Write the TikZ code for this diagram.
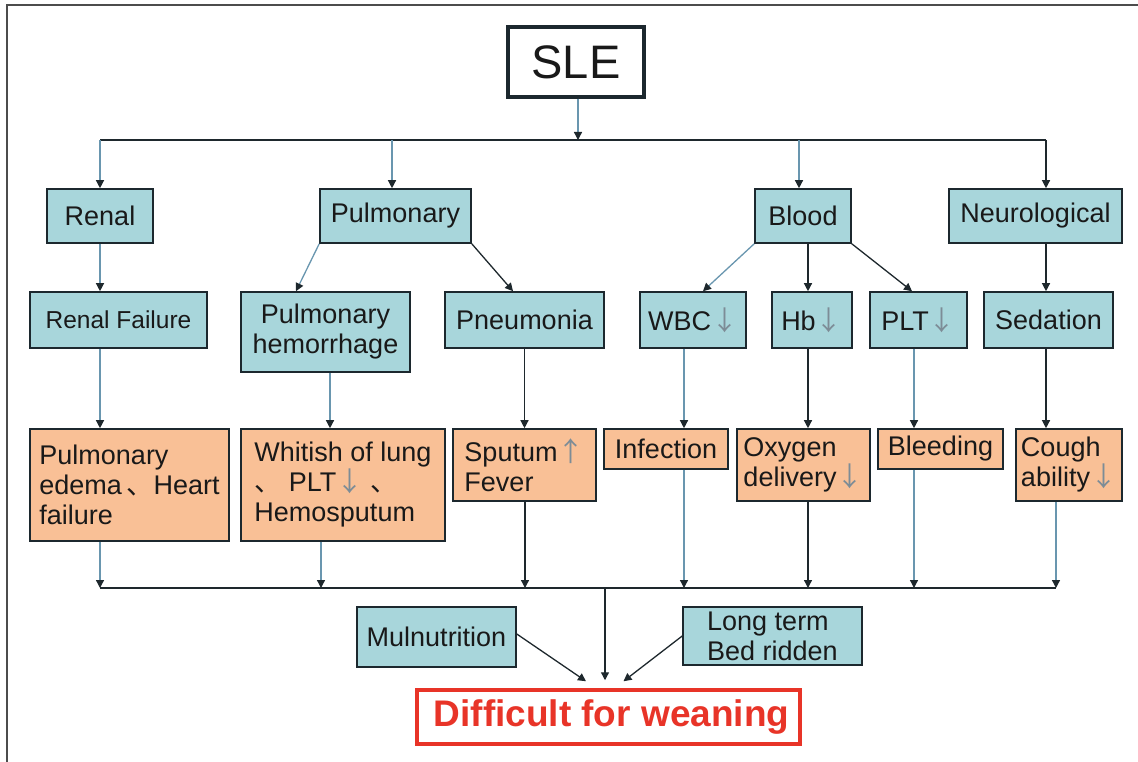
\documentclass[tikz,border=0pt]{standalone}
\usepackage{fontspec}
\setmainfont{Liberation Sans}
\newfontfamily\cjk{Noto Sans CJK SC}
\usetikzlibrary{arrows.meta}
\definecolor{bfill}{RGB}{168,214,219}
\definecolor{ofill}{RGB}{249,192,150}
\definecolor{bord}{RGB}{28,40,46}
\definecolor{lnblue}{RGB}{105,150,175}
\definecolor{lnblk}{RGB}{30,40,45}
\definecolor{redc}{RGB}{232,52,40}
\definecolor{arrg}{RGB}{125,140,150}
\newcommand{\dnarr}{{\cjk\color{arrg}↓}}
\newcommand{\uparr}{{\cjk\color{arrg}↑}}
\newcommand{\icomma}{{\cjk 、}}
\begin{document}
\begin{tikzpicture}[x=1pt,y=-1pt,
  box/.style={draw=bord, line width=1.6pt, inner sep=0pt, text=black!90, font=\fontsize{27}{30}\selectfont},
  bbox/.style={box, fill=bfill},
  obox/.style={box, fill=ofill},
  arr/.style={line width=1.3pt, draw=lnblk, -{Triangle[width=8pt,length=8pt,color=lnblk]}},
  barr/.style={arr, draw=lnblue},
  ln/.style={line width=1.4pt, draw=lnblk}]
\useasboundingbox (0,0) rectangle (1138,762);
\draw[line width=1.5pt, draw=black!70] (7,762) -- (7,5) -- (1138,5);

% top
\node[box, line width=3.5pt, minimum width=136pt, minimum height=70pt, font=\fontsize{47}{50}\selectfont] (SLE) at (576,62) {SLE};
\coordinate (dS) at (578,140);
\coordinate (dR) at (100,140);
\coordinate (dP) at (392,140);
\coordinate (dB) at (799,140);
\coordinate (dN) at (1046,140);
\draw[ln] (dR) -- (dN);
\draw[barr] (SLE.south -| dS) -- (dS);

% row 1
\node[bbox, minimum width=106pt, minimum height=54pt] (Renal) at (100,216) {Renal};
\node[bbox, minimum width=151pt, minimum height=54pt] (Pulm) at (395.5,216) {Pulmonary};
\node[bbox, minimum width=96pt, minimum height=54pt] (Blood) at (803,216) {Blood};
\node[bbox, minimum width=173pt, minimum height=54pt] (Neuro) at (1035.5,216) {Neurological};
\draw[barr] (dR) -- (Renal.north);
\draw[barr] (dP) -- (dP |- Pulm.north);
\draw[barr] (dB) -- (dB |- Blood.north);
\draw[arr] (dN) -- (dN |- Neuro.north);

% row 2
\node[bbox, minimum width=177pt, minimum height=56pt, font=\fontsize{24.5}{28}\selectfont] (RF) at (118.5,320) {Renal Failure};
\node[bbox, minimum width=169pt, minimum height=80pt, align=center] (PH) at (325.5,332) {Pulmonary\\hemorrhage};
\node[bbox, minimum width=159pt, minimum height=56pt] (Pneu) at (524.5,320) {Pneumonia};
\node[bbox, minimum width=106pt, minimum height=56pt] (WBC) at (693,320) {WBC\dnarr};
\node[bbox, minimum width=80pt, minimum height=56pt] (Hb) at (812,320) {Hb\dnarr};
\node[bbox, minimum width=97pt, minimum height=56pt] (PLT) at (918.5,320) {PLT\dnarr};
\node[bbox, minimum width=129pt, minimum height=56pt] (Sed) at (1048.5,320) {Sedation};

\draw[barr] (Renal.south) -- (Renal.south |- RF.north);
\draw[barr] (Pulm.south west) -- ([xshift=-29.5pt]PH.north);
\draw[arr] (Pulm.south east) -- ([xshift=-11.5pt]Pneu.north);
\draw[barr] (Blood.south west) -- ([xshift=10pt]WBC.north);
\draw[arr] ([xshift=5pt]Blood.south) -- ([xshift=-4pt]Hb.north);
\draw[arr] (Blood.south east) -- ([xshift=-6.5pt]PLT.north);
\draw[arr] ([xshift=10.5pt]Neuro.south) -- ([xshift=-2.5pt]Sed.north);

% row 3
\node[obox, minimum width=199pt, minimum height=112pt, align=left] (PE) at (129.5,485) {Pulmonary\\edema\,\icomma Heart\\failure};
\node[obox, minimum width=204pt, minimum height=112pt, align=left] (WL) at (343,485) {Whitish of lung\\\icomma\ PLT\dnarr\ \icomma\\Hemosputum};
\node[obox, minimum width=143pt, minimum height=72pt, align=left] (Sp) at (524.5,465) {Sputum\uparr\\Fever};
\node[obox, minimum width=124pt, minimum height=40pt] (Inf) at (666,449) {Infection};
\node[obox, minimum width=133pt, minimum height=72pt, align=left] (Ox) at (803.5,465) {Oxygen\\delivery\dnarr};
\node[obox, minimum width=125pt, minimum height=40pt] (Bl) at (940.5,449) {Bleeding};
\node[obox, minimum width=106pt, minimum height=72pt, align=left] (Co) at (1069,465) {Cough\\ability\dnarr};

\draw[barr] ([xshift=-18.5pt]RF.south) -- ([xshift=-29.5pt]PE.north);
\draw[barr] ([xshift=4.5pt]PH.south) -- ([xshift=-13pt]WL.north);
\draw[arr] (Pneu.south) -- (Sp.north);
\draw[barr] ([xshift=-9pt]WBC.south) -- ([xshift=18pt]Inf.north);
\draw[arr] ([xshift=-4pt]Hb.south) -- ([xshift=4.5pt]Ox.north);
\draw[barr] ([xshift=-4.5pt]PLT.south) -- ([xshift=-26.5pt]Bl.north);
\draw[arr] ([xshift=-2.5pt]Sed.south) -- ([xshift=-23pt]Co.north);

% bottom bus
\coordinate (b1) at (100,588);
\coordinate (b2) at (321,588);
\coordinate (b3) at (525,588);
\coordinate (b4) at (684,588);
\coordinate (b5) at (808,588);
\coordinate (b6) at (914,588);
\coordinate (b7) at (1056,588);
\coordinate (bc) at (605,588);
\draw[ln] (b1) -- (b7);
\draw[barr] (b1 |- PE.south) -- (b1);
\draw[barr] (b2 |- WL.south) -- (b2);
\draw[arr] (b3 |- Sp.south) -- (b3);
\draw[barr] (b4 |- Inf.south) -- (b4);
\draw[arr] (b5 |- Ox.south) -- (b5);
\draw[barr] (b6 |- Bl.south) -- (b6);
\draw[barr] (b7 |- Co.south) -- (b7);

% bottom
\node[bbox, minimum width=159pt, minimum height=60pt] (Mul) at (436.5,637) {Mulnutrition};
\node[bbox, minimum width=179pt, minimum height=58pt, align=left] (LT) at (772.5,636) {Long term\\Bed ridden};
\node[box, draw=redc, line width=3.5pt, minimum width=383pt, minimum height=54pt, text=redc, font=\fontsize{37}{40}\selectfont\bfseries] (DW) at (608.5,717) {\hspace*{6pt}Difficult for weaning};

\draw[arr, shorten >=8pt] (bc) -- (bc |- DW.north);
\draw[arr] ([yshift=3pt]Mul.east) -- ([xshift=-22.5pt,yshift=7pt]DW.north);
\draw[arr] (LT.west) -- ([xshift=15pt,yshift=7pt]DW.north);
\end{tikzpicture}
\end{document}
